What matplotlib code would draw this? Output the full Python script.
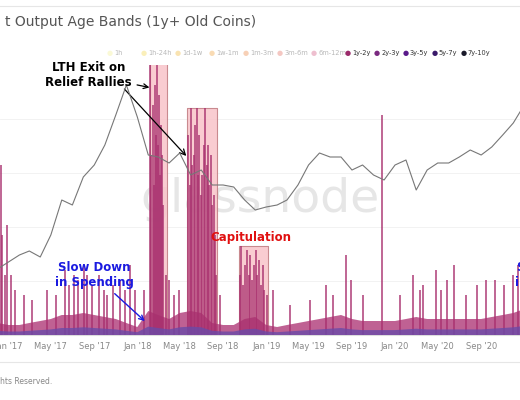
import matplotlib.pyplot as plt
import matplotlib.dates as mdates
from datetime import datetime

# monthly points, price line height (px above axis bottom)
months = ["2016-11", "2016-12", "2017-01", "2017-02", "2017-03", "2017-04", "2017-05", "2017-06",
          "2017-07", "2017-08", "2017-09", "2017-10", "2017-11", "2017-12", "2018-01", "2018-02",
          "2018-03", "2018-04", "2018-05", "2018-06", "2018-07", "2018-08", "2018-09", "2018-10",
          "2018-11", "2018-12", "2019-01", "2019-02", "2019-03", "2019-04", "2019-05", "2019-06",
          "2019-07", "2019-08", "2019-09", "2019-10", "2019-11", "2019-12", "2020-01", "2020-02",
          "2020-03", "2020-04", "2020-05", "2020-06", "2020-07", "2020-08", "2020-09", "2020-10",
          "2020-11", "2020-12", "2021-01"]
price = [62, 66, 73, 80, 84, 78, 100, 135, 130, 158, 170, 190, 220, 250, 218, 180,
         178, 172, 182, 160, 165, 150, 150, 148, 135, 125, 128, 130, 135, 150, 170, 182,
         178, 178, 165, 170, 160, 155, 170, 175, 145, 165, 172, 172, 178, 185, 180, 188,
         200, 212, 230]
# baseline spending per month (px)
baseline = [14, 12, 10, 10, 12, 14, 16, 20, 20, 22, 20, 18, 16, 12, 8, 24,
            20, 16, 22, 24, 22, 12, 10, 10, 16, 18, 10, 8, 10, 12, 14, 16,
            18, 20, 16, 14, 14, 14, 14, 16, 18, 16, 16, 16, 16, 16, 16, 18,
            20, 22, 26]
# spikes: date, height (px)
spike_dates = ["2016-12-10", "2016-12-14", "2016-12-22", "2016-12-28", "2017-01-08", "2017-01-20",
               "2017-02-15", "2017-03-10", "2017-04-20", "2017-05-15", "2017-06-10", "2017-06-22",
               "2017-07-05", "2017-07-18", "2017-08-02", "2017-08-12", "2017-08-25", "2017-09-15",
               "2017-09-28", "2017-10-08", "2017-10-25", "2017-11-12", "2017-11-28", "2017-12-10",
               "2017-12-24", "2018-01-20",
               "2018-02-07", "2018-02-10", "2018-02-13", "2018-02-16", "2018-02-19", "2018-02-22",
               "2018-02-25", "2018-02-28", "2018-03-03", "2018-03-06", "2018-03-09", "2018-03-12",
               "2018-03-15", "2018-03-22", "2018-04-01", "2018-04-15", "2018-04-28",
               "2018-05-25", "2018-05-29", "2018-06-02", "2018-06-06", "2018-06-10", "2018-06-14",
               "2018-06-18", "2018-06-22", "2018-06-26", "2018-06-30", "2018-07-04", "2018-07-08",
               "2018-07-12", "2018-07-16", "2018-07-20", "2018-07-24", "2018-07-28", "2018-08-01",
               "2018-08-05", "2018-08-08", "2018-08-12", "2018-08-22",
               "2018-10-18", "2018-10-23", "2018-10-28", "2018-11-02", "2018-11-07", "2018-11-12",
               "2018-11-17", "2018-11-22", "2018-11-27", "2018-12-02", "2018-12-07", "2018-12-12",
               "2018-12-17", "2018-12-22", "2018-12-27", "2019-01-02",
               "2019-01-20", "2019-03-10", "2019-05-05", "2019-06-20", "2019-07-10", "2019-08-15",
               "2019-08-28", "2019-10-01", "2019-11-25", "2020-01-15", "2020-02-20", "2020-03-12",
               "2020-03-20", "2020-04-25", "2020-05-10", "2020-05-28", "2020-06-15", "2020-07-20",
               "2020-08-20", "2020-09-15", "2020-10-10", "2020-11-05", "2020-12-01", "2020-12-15"]
spike_h = [170, 100, 60, 110, 60, 45, 40, 35, 45, 40, 65, 50,
           60, 55, 70, 60, 50, 60, 45, 40, 50, 55, 45, 70,
           45, 45,
           277, 180, 230, 150, 250, 200, 270, 190, 240, 160, 210, 180,
           130, 60, 55, 40, 45,
           200, 150, 227, 170, 180, 210, 227, 160, 200, 140, 160, 190,
           227, 170, 190, 150, 180, 130, 140, 100, 60, 40,
           60, 89, 50, 70, 85, 60, 80, 55, 70, 85, 60, 75,
           50, 70, 45, 40,
           45, 30, 35, 50, 40, 80, 55, 40, 220, 40, 60, 45,
           50, 65, 45, 55, 70, 40, 50, 55, 55, 50, 60, 70]
# highlighted windows: start, end, top (px)
boxes = [("2018-02-06", "2018-03-25", 277), ("2018-05-22", "2018-08-14", 227),
         ("2018-10-15", "2019-01-05", 89)]

legend_labels = ["1h", "1h-24h", "1d-1w", "1w-1m", "1m-3m", "3m-6m", "6m-12m",
                 "1y-2y", "2y-3y", "3y-5y", "5y-7y", "7y-10y"]
legend_colors = ["#f3ef8a", "#f3d33a", "#f0b020", "#ee9a2a", "#ea7a30", "#e06050", "#d04a78",
                 "#9b2a6a", "#7a2a80", "#5a1a8a", "#3a1a6a", "#1a1a2a"]

d = lambda s: datetime.strptime(s, "%Y-%m-%d")
mdays = [d(m + "-01") for m in months]

fig = plt.figure(figsize=(5.2, 4), dpi=100)
ax = fig.add_axes([0, 65 / 400, 1, 270 / 400])
ax.set_xlim(d("2016-12-08"), d("2020-12-20"))
ax.set_ylim(0, 270)

ax.text(0.5, 0.5, "glassnode", transform=ax.transAxes, ha="center", va="center",
        fontsize=34, color="#e6e6e6", zorder=0)

for y in [54, 108, 162, 216]:
    ax.axhline(y, color="#f0f0f0", lw=0.6, zorder=0)

for s, e, top in boxes:
    ax.fill_between([d(s), d(e)], 0, top, color="#f9c3c9", alpha=0.85,
                    edgecolor="#c07a80", lw=0.8, zorder=1)

ax.fill_between(mdays, 0, baseline, color="#b03a78", alpha=0.8, lw=0, zorder=2)
ax.fill_between(mdays, 0, [b * 0.35 for b in baseline], color="#6a4aa8",
                alpha=0.8, lw=0, zorder=3)
ax.vlines([d(s) for s in spike_dates], 0, spike_h, color="#a8306e", lw=1.3, alpha=0.8, zorder=2)

ax.plot(mdays, price, color="#777777", lw=0.8, zorder=4)

ax.xaxis.set_major_locator(mdates.MonthLocator(bymonth=[1, 5, 9]))
ax.xaxis.set_major_formatter(mdates.DateFormatter("%b '%y"))
ax.tick_params(axis="x", length=0, labelsize=6, colors="#888888", pad=5)
ax.set_yticks([])
for sp in ax.spines.values():
    sp.set_visible(False)
ax.spines["bottom"].set_visible(True)
ax.spines["bottom"].set_color("#dddddd")

bold = dict(fontweight="bold", fontsize=8.5, ha="center", va="center", zorder=6)
ax.annotate("LTH Exit on\nRelief Rallies", xy=(d("2018-02-12"), 247), xytext=(d("2017-08-15"), 260),
            textcoords="data", color="black", arrowprops=dict(arrowstyle="->", color="black", lw=0.9), **bold)
ax.annotate("", xy=(d("2018-05-25"), 177), xytext=(d("2017-11-20"), 248),
            arrowprops=dict(arrowstyle="->", color="black", lw=0.9))
ax.text(d("2018-11-20"), 98, "Capitulation", color="#e01010", **bold)
ax.annotate("Slow Down\nin Spending", xy=(d("2018-01-28"), 12), xytext=(d("2017-09-01"), 60),
            color="#1a1ae0", arrowprops=dict(arrowstyle="->", color="#1a1ae0", lw=1.0), **bold)
ax.text(d("2020-12-22"), 60, "S\nin", color="#1a1ae0", **bold)

fig.text(0.01, 0.945, "t Output Age Bands (1y+ Old Coins)", fontsize=10, color="#555555", va="center")
fig.add_artist(plt.Line2D([0, 1], [0.985, 0.985], color="#e6e6e6", lw=0.8))
fig.add_artist(plt.Line2D([0, 1], [0.095, 0.095], color="#e6e6e6", lw=0.8))
fig.text(0.0, 0.045, "hts Reserved.", fontsize=5.5, color="#888888", va="center")

x = 0.205
for lab, col, i in zip(legend_labels, legend_colors, range(12)):
    a = 0.35 if i < 7 else 1.0
    fig.text(x, 0.868, "\u25cf", color=col, alpha=a, fontsize=5, va="center")
    fig.text(x + 0.014, 0.868, lab, color="#333333", alpha=a, fontsize=4.8, va="center")
    x += 0.0655 if i < 7 else 0.0555

fig.savefig("out.png", dpi=100)
